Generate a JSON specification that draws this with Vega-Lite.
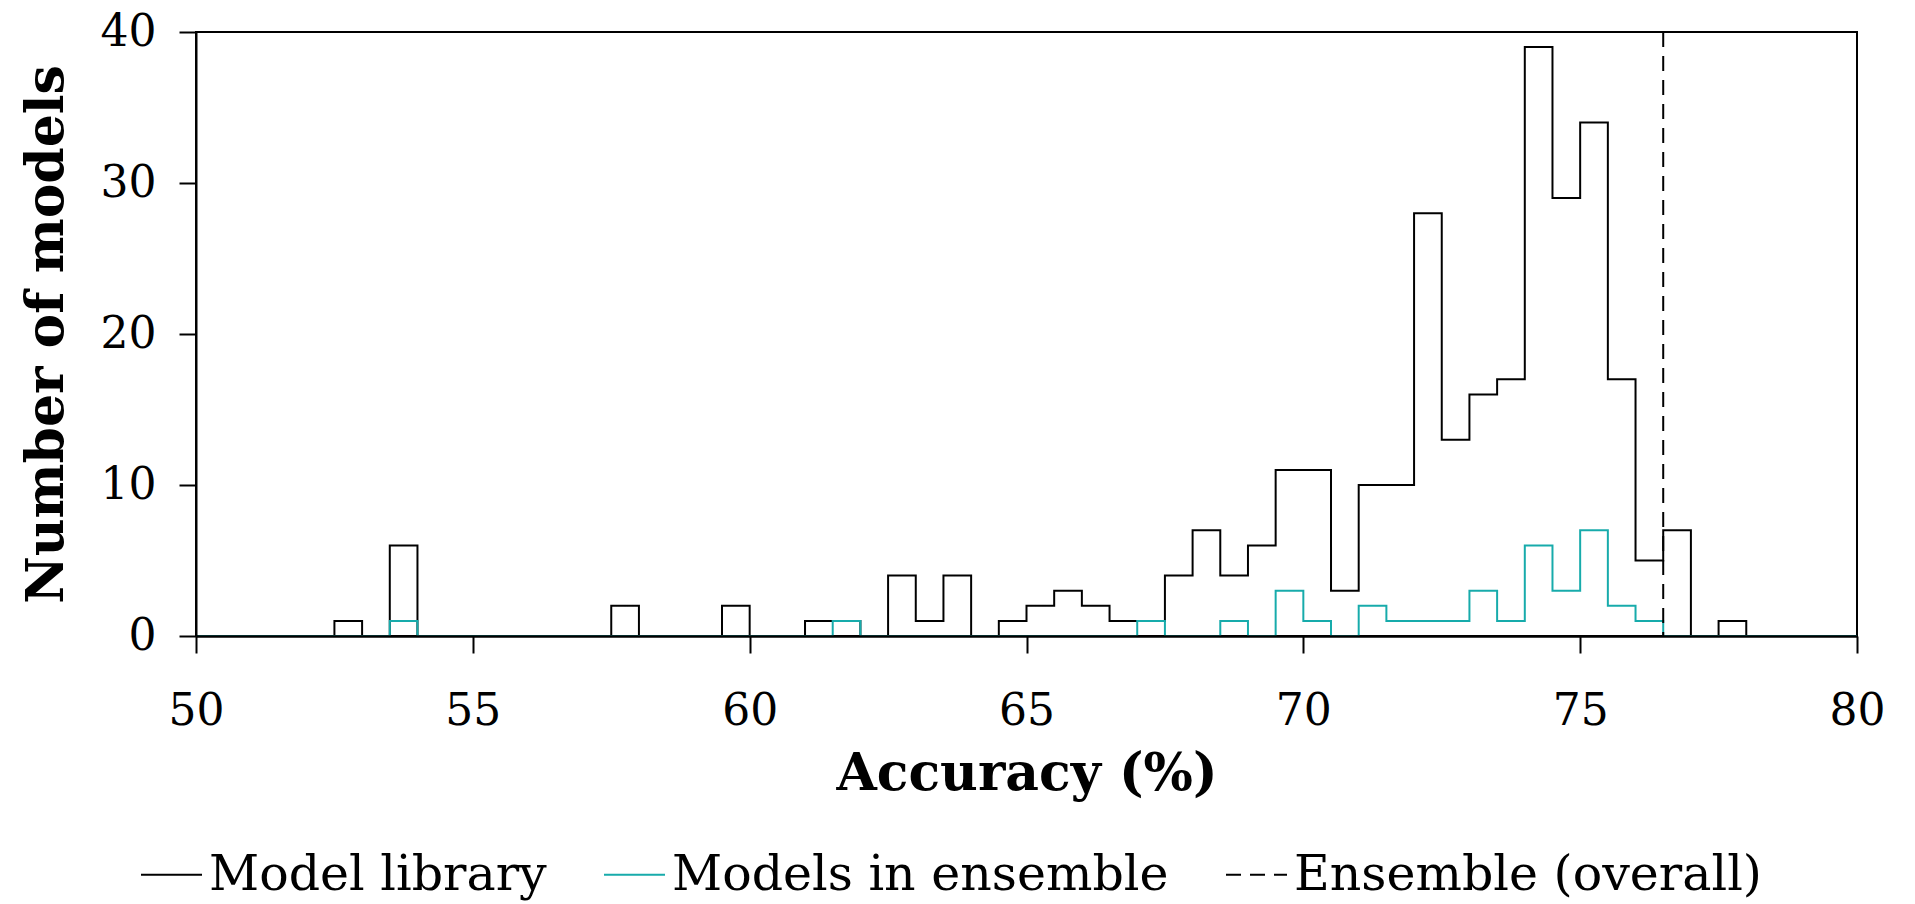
{
  "$schema": "https://vega.github.io/schema/vega-lite/v6.json",
  "width": 1661,
  "height": 604,
  "autosize": {"type": "none"},
  "padding": {"left": 196, "top": 32, "right": 58, "bottom": 268},
  "background": "white",
  "config": {
    "font": "DejaVu Serif",
    "view": {"stroke": "black", "strokeWidth": 2},
    "legend": {
      "orient": "none",
      "legendX": -56,
      "legendY": 811,
      "direction": "horizontal",
      "columns": 3,
      "columnPadding": 53,
      "padding": 0,
      "symbolType": "stroke",
      "symbolSize": 3721,
      "symbolStrokeWidth": 2,
      "labelFont": "DejaVu Serif",
      "labelFontSize": 49,
      "labelColor": "black",
      "labelOffset": 6,
      "labelLimit": 0,
      "title": null
    }
  },
  "datasets": {
    "hist": [
      {"acc": 50.0, "Model library": 0, "Models in ensemble": 0},
      {"acc": 50.5, "Model library": 0, "Models in ensemble": 0},
      {"acc": 51.0, "Model library": 0, "Models in ensemble": 0},
      {"acc": 51.5, "Model library": 0, "Models in ensemble": 0},
      {"acc": 52.0, "Model library": 0, "Models in ensemble": 0},
      {"acc": 52.5, "Model library": 1, "Models in ensemble": 0},
      {"acc": 53.0, "Model library": 0, "Models in ensemble": 0},
      {"acc": 53.5, "Model library": 6, "Models in ensemble": 1},
      {"acc": 54.0, "Model library": 0, "Models in ensemble": 0},
      {"acc": 54.5, "Model library": 0, "Models in ensemble": 0},
      {"acc": 55.0, "Model library": 0, "Models in ensemble": 0},
      {"acc": 55.5, "Model library": 0, "Models in ensemble": 0},
      {"acc": 56.0, "Model library": 0, "Models in ensemble": 0},
      {"acc": 56.5, "Model library": 0, "Models in ensemble": 0},
      {"acc": 57.0, "Model library": 0, "Models in ensemble": 0},
      {"acc": 57.5, "Model library": 2, "Models in ensemble": 0},
      {"acc": 58.0, "Model library": 0, "Models in ensemble": 0},
      {"acc": 58.5, "Model library": 0, "Models in ensemble": 0},
      {"acc": 59.0, "Model library": 0, "Models in ensemble": 0},
      {"acc": 59.5, "Model library": 2, "Models in ensemble": 0},
      {"acc": 60.0, "Model library": 0, "Models in ensemble": 0},
      {"acc": 60.5, "Model library": 0, "Models in ensemble": 0},
      {"acc": 61.0, "Model library": 1, "Models in ensemble": 0},
      {"acc": 61.5, "Model library": 1, "Models in ensemble": 1},
      {"acc": 62.0, "Model library": 0, "Models in ensemble": 0},
      {"acc": 62.5, "Model library": 4, "Models in ensemble": 0},
      {"acc": 63.0, "Model library": 1, "Models in ensemble": 0},
      {"acc": 63.5, "Model library": 4, "Models in ensemble": 0},
      {"acc": 64.0, "Model library": 0, "Models in ensemble": 0},
      {"acc": 64.5, "Model library": 1, "Models in ensemble": 0},
      {"acc": 65.0, "Model library": 2, "Models in ensemble": 0},
      {"acc": 65.5, "Model library": 3, "Models in ensemble": 0},
      {"acc": 66.0, "Model library": 2, "Models in ensemble": 0},
      {"acc": 66.5, "Model library": 1, "Models in ensemble": 0},
      {"acc": 67.0, "Model library": 1, "Models in ensemble": 1},
      {"acc": 67.5, "Model library": 4, "Models in ensemble": 0},
      {"acc": 68.0, "Model library": 7, "Models in ensemble": 0},
      {"acc": 68.5, "Model library": 4, "Models in ensemble": 1},
      {"acc": 69.0, "Model library": 6, "Models in ensemble": 0},
      {"acc": 69.5, "Model library": 11, "Models in ensemble": 3},
      {"acc": 70.0, "Model library": 11, "Models in ensemble": 1},
      {"acc": 70.5, "Model library": 3, "Models in ensemble": 0},
      {"acc": 71.0, "Model library": 10, "Models in ensemble": 2},
      {"acc": 71.5, "Model library": 10, "Models in ensemble": 1},
      {"acc": 72.0, "Model library": 28, "Models in ensemble": 1},
      {"acc": 72.5, "Model library": 13, "Models in ensemble": 1},
      {"acc": 73.0, "Model library": 16, "Models in ensemble": 3},
      {"acc": 73.5, "Model library": 17, "Models in ensemble": 1},
      {"acc": 74.0, "Model library": 39, "Models in ensemble": 6},
      {"acc": 74.5, "Model library": 29, "Models in ensemble": 3},
      {"acc": 75.0, "Model library": 34, "Models in ensemble": 7},
      {"acc": 75.5, "Model library": 17, "Models in ensemble": 2},
      {"acc": 76.0, "Model library": 5, "Models in ensemble": 1},
      {"acc": 76.5, "Model library": 7, "Models in ensemble": 0},
      {"acc": 77.0, "Model library": 0, "Models in ensemble": 0},
      {"acc": 77.5, "Model library": 1, "Models in ensemble": 0},
      {"acc": 78.0, "Model library": 0, "Models in ensemble": 0},
      {"acc": 78.5, "Model library": 0, "Models in ensemble": 0},
      {"acc": 79.0, "Model library": 0, "Models in ensemble": 0},
      {"acc": 79.5, "Model library": 0, "Models in ensemble": 0},
      {"acc": 80.0, "Model library": 0, "Models in ensemble": 0}
    ],
    "ensemble": [
      {"acc": 76.5, "series": "Ensemble (overall)"}
    ]
  },
  "layer": [
    {
      "data": {"name": "hist"},
      "transform": [
        {"fold": ["Model library", "Models in ensemble"], "as": ["series", "count"]}
      ],
      "mark": {"type": "line", "interpolate": "step-after", "strokeWidth": 2},
      "encoding": {
        "x": {
          "field": "acc",
          "type": "quantitative",
          "title": "Accuracy (%)",
          "scale": {"domain": [50, 80], "nice": false, "zero": false},
          "axis": {
            "values": [50, 55, 60, 65, 70, 75, 80],
            "grid": false,
            "zindex": 1,
            "domainColor": "black",
            "domainWidth": 2.5,
            "tickColor": "black",
            "tickWidth": 2,
            "tickSize": 17,
            "labelFont": "DejaVu Serif",
            "labelFontSize": 44,
            "labelColor": "black",
            "labelPadding": 36,
            "labelFlush": false,
            "labelOverlap": false,
            "titleFont": "DejaVu Serif",
            "titleFontSize": 52,
            "titleFontWeight": "bold",
            "titleColor": "black",
            "titlePadding": 15
          }
        },
        "y": {
          "field": "count",
          "type": "quantitative",
          "title": "Number of models",
          "scale": {"domain": [0, 40], "nice": false},
          "axis": {
            "values": [0, 10, 20, 30, 40],
            "grid": false,
            "zindex": 1,
            "domainColor": "black",
            "domainWidth": 2,
            "tickColor": "black",
            "tickWidth": 2,
            "tickSize": 17,
            "labelFont": "DejaVu Serif",
            "labelFontSize": 44,
            "labelColor": "black",
            "labelPadding": 23,
            "labelFlush": false,
            "labelOverlap": false,
            "titleFont": "DejaVu Serif",
            "titleFontSize": 52,
            "titleFontWeight": "bold",
            "titleColor": "black",
            "titlePadding": 27
          }
        },
        "color": {
          "field": "series",
          "type": "nominal",
          "scale": {
            "domain": ["Model library", "Models in ensemble", "Ensemble (overall)"],
            "range": ["#000000", "#17ABAB", "#000000"]
          }
        },
        "strokeDash": {
          "field": "series",
          "type": "nominal",
          "scale": {
            "domain": ["Model library", "Models in ensemble", "Ensemble (overall)"],
            "range": [[1, 0], [1, 0], [15, 9]]
          }
        },
        "order": {"field": "acc", "type": "quantitative"}
      }
    },
    {
      "data": {"name": "ensemble"},
      "mark": {"type": "rule", "strokeWidth": 2},
      "encoding": {
        "x": {"field": "acc", "type": "quantitative"},
        "color": {"field": "series", "type": "nominal"},
        "strokeDash": {"field": "series", "type": "nominal"}
      }
    }
  ]
}
